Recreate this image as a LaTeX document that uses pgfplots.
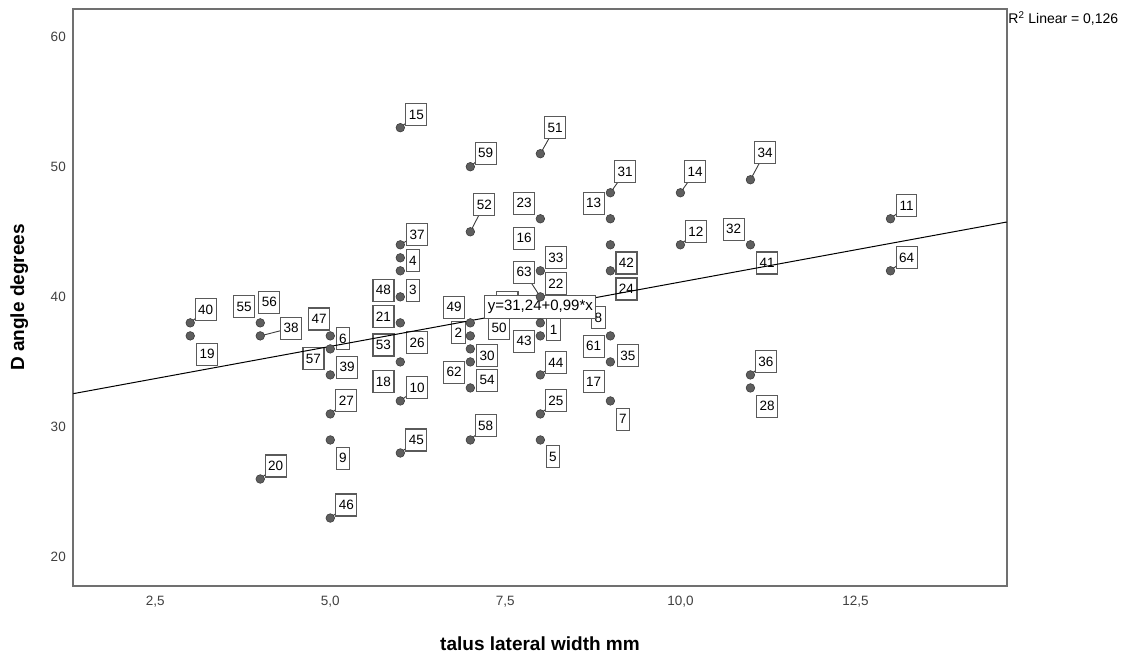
\documentclass[border=0pt]{standalone}
\usepackage{fontspec}
\setmainfont{Liberation Sans}
\usepackage{pgfplots}
\pgfplotsset{compat=1.18}
\definecolor{dot}{HTML}{5E5E5E}
\definecolor{dotedge}{HTML}{3C3C3C}
\definecolor{boxline}{HTML}{5A5A5A}
\definecolor{frame}{HTML}{707070}
\definecolor{ticktxt}{HTML}{404040}

% label box at (x,y)
\newcommand{\lb}[3]{\node[lbl] at (axis cs:#1,#2) {#3};}
% leader from point (#3) to label centre, drawn before the boxes
\newcommand{\ld}[3]{\draw[leader] (axis cs:#3) -- (axis cs:#1,#2);}

\begin{document}
\begin{tikzpicture}[
  lbl/.style={draw=boxline, fill=white, line width=1.1pt, inner xsep=3pt, inner ysep=0pt,
    minimum height=22pt, font=\fontsize{13.5}{13.5}\selectfont, text=black},
  leader/.style={draw=dotedge, line width=0.9pt}]
\useasboundingbox (-73.3pt,-67.3pt) rectangle (1061.7pt,585.7pt);
\begin{axis}[
  at={(0,0)}, anchor=south west, scale only axis,
  width=933.4pt, height=576.4pt,
  xmin=1.33, xmax=14.66, ymin=17.8, ymax=62.1,
  axis line style={frame, line width=1.8pt},
  major tick length=0pt,
  xtick={2.5,5,7.5,10,12.5}, ytick={20,30,40,50,60},
  xticklabel style={/pgf/number format/fixed, /pgf/number format/fixed zerofill,
    /pgf/number format/precision=1, /pgf/number format/use comma,
    anchor=north, yshift=-7pt},
  tick label style={font=\fontsize{13.5}{13.5}\selectfont, text=ticktxt},
  /pgf/number format/assume math mode=true,
  yticklabel style={anchor=east, xshift=-4pt},
  xlabel={talus lateral width mm}, ylabel={D angle degrees},
  every axis x label/.style={at={(axis description cs:0.5,-0.100)}, anchor=center,
    font=\bfseries\fontsize{19}{19}\selectfont},
  every axis y label/.style={at={(axis description cs:-0.058,0.5)}, anchor=center, rotate=90,
    font=\bfseries\fontsize{19}{19}\selectfont},
  clip=false]

% leaders
\ld{6.23}{54.0}{6,53}
\ld{7.22}{51.05}{7,50}
\ld{8.21}{53.0}{8,51}
\ld{7.20}{47.1}{7,45}
\ld{9.21}{49.6}{9,48}
\ld{10.21}{49.6}{10,48}
\ld{11.21}{51.1}{11,49}
\ld{10.22}{45.0}{10,44}
\ld{13.23}{47.0}{13,46}
\ld{13.23}{43.0}{13,42}
\ld{11.22}{35.0}{11,34}
\ld{4.22}{27.0}{4,26}
\ld{5.23}{24.0}{5,23}
\ld{5.23}{32.0}{5,31}
\ld{6.23}{29.0}{6,28}
\ld{6.24}{33.0}{6,32}
\ld{7.22}{30.1}{7,29}
\ld{8.22}{32.0}{8,31}
\ld{8.22}{34.95}{8,34}
\ld{6.24}{44.8}{6,44}
\ld{3.22}{39.0}{3,38}
\ld{4.44}{37.6}{4,37}
\ld{7.77}{41.9}{8,40}

% cases
\addplot[only marks, mark=*, mark size=4.3pt, mark options={fill=dot, draw=dotedge, line width=0.6pt}]
  coordinates {
  (3,38) (3,37)
  (4,38) (4,37) (4,26)
  (5,37) (5,36) (5,34) (5,31) (5,29) (5,23)
  (6,53) (6,44) (6,43) (6,42) (6,40) (6,38) (6,35) (6,32) (6,28)
  (7,50) (7,45) (7,38) (7,37) (7,36) (7,35) (7,33) (7,29)
  (8,51) (8,46) (8,42) (8,40) (8,38) (8,37) (8,34) (8,31) (8,29)
  (9,48) (9,46) (9,44) (9,42) (9,37) (9,35) (9,32)
  (10,48) (10,44)
  (11,49) (11,44) (11,34) (11,33)
  (13,46) (13,42)};

% case labels
\lb{3.22}{39.0}{40}  \lb{3.24}{35.6}{19}
\lb{3.77}{39.25}{55} \lb{4.13}{39.6}{56} \lb{4.44}{37.6}{38} \lb{4.22}{27.0}{20}
\lb{4.84}{38.3}{47}  \lb{5.18}{36.8}{6}  \lb{4.76}{35.25}{57} \lb{5.24}{34.6}{39}
\lb{5.23}{32.0}{27}  \lb{5.18}{27.6}{9}  \lb{5.23}{24.0}{46}
\lb{6.23}{54.0}{15}  \lb{6.24}{44.8}{37} \lb{6.18}{42.8}{4}  \lb{5.76}{40.5}{48}
\lb{6.18}{40.5}{3}   \lb{5.76}{38.5}{21} \lb{5.76}{36.3}{53} \lb{6.24}{36.5}{26}
\lb{5.76}{33.5}{18}  \lb{6.24}{33.0}{10} \lb{6.23}{29.0}{45}
\lb{6.77}{39.2}{49}  \lb{6.83}{37.25}{2} \lb{6.77}{34.2}{62} \lb{7.24}{35.5}{30}
\lb{7.24}{33.6}{54}  \lb{7.22}{30.1}{58} \lb{7.22}{51.05}{59} \lb{7.20}{47.1}{52}
\lb{7.41}{37.6}{50}  \lb{7.53}{39.6}{\phantom{60}}
\lb{8.21}{53.0}{51}  \lb{7.77}{47.2}{23} \lb{7.77}{44.5}{16} \lb{8.22}{43.0}{33}
\lb{7.77}{41.9}{63}  \lb{8.22}{41.0}{22} \lb{8.19}{37.5}{1}  \lb{7.77}{36.6}{43}
\lb{8.22}{34.95}{44} \lb{8.22}{32.0}{25} \lb{8.18}{27.7}{5}
\lb{8.83}{38.4}{8}   \lb{8.76}{47.2}{13} \lb{9.21}{49.6}{31} \lb{9.23}{42.6}{42}
\lb{9.23}{40.6}{24}  \lb{8.76}{36.2}{61} \lb{9.25}{35.5}{35} \lb{8.76}{33.5}{17}
\lb{9.18}{30.6}{7}
\lb{10.21}{49.6}{14} \lb{10.22}{45.0}{12}
\lb{11.21}{51.1}{34} \lb{10.76}{45.2}{32} \lb{11.24}{42.6}{41} \lb{11.22}{35.0}{36}
\lb{11.24}{31.6}{28}
\lb{13.23}{47.0}{11} \lb{13.23}{43.0}{64}

% fit line y = 31.24 + 0.99x
\addplot[black, line width=1pt] coordinates {(1.33,32.56) (14.66,45.75)};
\node[lbl, font=\fontsize{15}{15}\selectfont, minimum height=23pt] at (axis cs:8.0,39.2) {y=31,24+0,99*x};

\node[anchor=north west, inner sep=0pt, font=\fontsize{14}{14}\selectfont]
  at ([xshift=1.5pt, yshift=-2pt]rel axis cs:1,1) {R\textsuperscript{2} Linear = 0,126};
\end{axis}
\end{tikzpicture}
\end{document}
